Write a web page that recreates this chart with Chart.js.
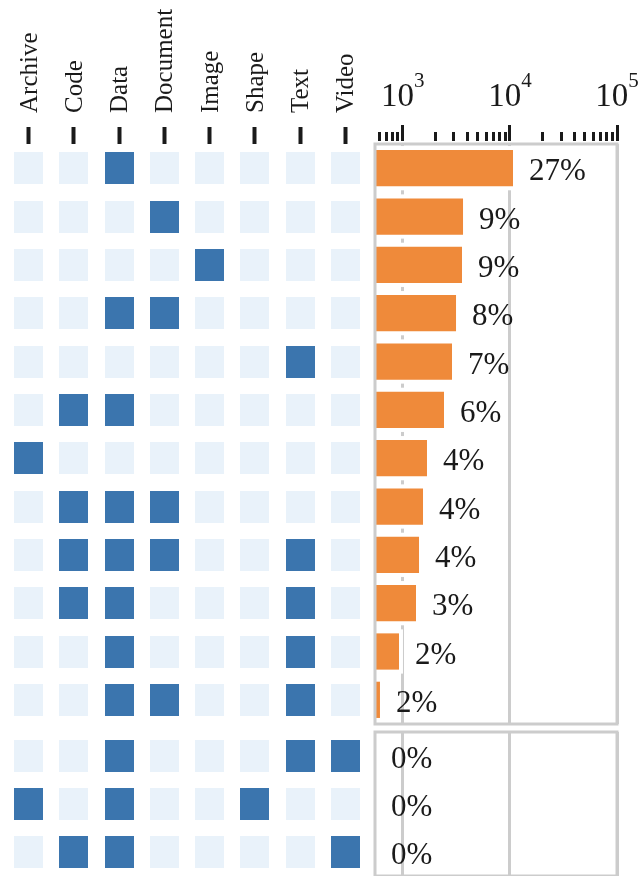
<!DOCTYPE html>
<html>
<head>
<meta charset="utf-8">
<title>File type combinations</title>
<script src="https://cdn.jsdelivr.net/npm/chart.js@4.4.1/dist/chart.umd.min.js"></script>
<style>
  html, body { margin: 0; padding: 0; background: #fff; }
  #wrap { position: relative; width: 640px; height: 876px; overflow: hidden; }
  #wrap canvas { position: absolute; }
</style>
</head>
<body>
<div id="wrap">
  <canvas id="matrixTop" width="372" height="726" style="left:0;top:0"></canvas>
  <canvas id="barsTop" width="268" height="726" style="left:372px;top:0"></canvas>
  <canvas id="matrixBottom" width="372" height="146" style="left:0;top:730px"></canvas>
  <canvas id="barsBottom" width="268" height="146" style="left:372px;top:730px"></canvas>
</div>
<script>
'use strict';

// file type columns of the membership matrix
const columns = ['Archive', 'Code', 'Data', 'Document', 'Image', 'Shape', 'Text', 'Video'];

// most common combinations (upper panel)
const topSets = [
    ['Data'],
    ['Document'],
    ['Image'],
    ['Data', 'Document'],
    ['Text'],
    ['Code', 'Data'],
    ['Archive'],
    ['Code', 'Data', 'Document'],
    ['Code', 'Data', 'Document', 'Text'],
    ['Code', 'Data', 'Text'],
    ['Data', 'Text'],
    ['Data', 'Document', 'Text']
];
const topCounts = [10690, 3650, 3570, 3140, 2880, 2425, 1682, 1544, 1417, 1328, 921, 612];

// rare combinations (lower panel)
const bottomSets = [
    ['Data', 'Text', 'Video'],
    ['Archive', 'Data', 'Shape'],
    ['Code', 'Data', 'Video']
];
const bottomCounts = [45, 30, 20];

const totalFiles = 39600;

// log axis ticks
const decadeTicks = [1000, 10000, 100000];
const minorTicks = [600, 700, 800, 900,
    2000, 3000, 4000, 5000, 6000, 7000, 8000, 9000,
    20000, 30000, 40000, 50000, 60000, 70000, 80000, 90000];

const SERIF = '"Liberation Serif", "Times New Roman", serif';
const INK = '#1a1a1a';
const GRID = '#cccccc';
const ON = '#3b75ae';
const OFF = '#e9f2fa';
const BAR = '#ef8a3a';

function cell(color) {
    var c = document.createElement('canvas');
    c.width = 29;
    c.height = 32;
    var g = c.getContext('2d');
    g.fillStyle = color;
    g.fillRect(0, 0, 29, 32);
    return c;
}

function rowName(set) {
    return set.join(' + ');
}

// rotated column names above the matrix, one per category tick
const columnNames = {
    id: 'columnNames',
    afterDraw: function(chart) {
        var ctx = chart.ctx, s = chart.scales.x;
        var end = chart.chartArea.top - 31;
        ctx.save();
        ctx.font = '25px ' + SERIF;
        ctx.fillStyle = INK;
        ctx.textAlign = 'left';
        ctx.textBaseline = 'alphabetic';
        columns.forEach(function(name, i) {
            ctx.save();
            ctx.translate(s.getPixelForValue(i), end);
            ctx.rotate(-Math.PI / 2);
            ctx.fillText(name, 0, 8);
            ctx.restore();
        });
        ctx.restore();
    }
};

// white gap around each bar so grid lines stop short of it
const barHalo = {
    id: 'barHalo',
    beforeDatasetsDraw: function(chart) {
        var ctx = chart.ctx, a = chart.chartArea;
        ctx.save();
        ctx.fillStyle = '#ffffff';
        chart.getDatasetMeta(0).data.forEach(function(bar) {
            if (bar.x <= a.left) return;
            ctx.fillRect(a.left, bar.y - bar.height / 2 - 4, bar.x - a.left + 4, bar.height + 8);
        });
        ctx.restore();
    }
};

const panelFrame = {
    id: 'panelFrame',
    afterDatasetsDraw: function(chart) {
        var ctx = chart.ctx, a = chart.chartArea;
        ctx.save();
        ctx.strokeStyle = GRID;
        ctx.lineWidth = 3;
        ctx.strokeRect(a.left, a.top, a.right - a.left, a.bottom - a.top);
        ctx.restore();
    }
};

// percentage of all files, written after each bar
const shareLabels = {
    id: 'shareLabels',
    afterDatasetsDraw: function(chart) {
        var ctx = chart.ctx, a = chart.chartArea;
        var counts = chart.data.datasets[0].data;
        ctx.save();
        ctx.font = '31px ' + SERIF;
        ctx.fillStyle = INK;
        ctx.textAlign = 'left';
        ctx.textBaseline = 'alphabetic';
        chart.getDatasetMeta(0).data.forEach(function(bar, i) {
            var pct = Math.round(counts[i] / totalFiles * 100);
            ctx.fillText(pct + '%', Math.max(bar.x, a.left) + 16, bar.y + 12);
        });
        ctx.restore();
    }
};

// tick marks and 10^n labels above the upper panel
const decadeAxis = {
    id: 'decadeAxis',
    afterDraw: function(chart) {
        var ctx = chart.ctx, s = chart.scales.x, top = chart.chartArea.top;
        ctx.save();
        ctx.fillStyle = INK;
        s.ticks.forEach(function(t) {
            var px = Math.round(s.getPixelForValue(t.value) - 1.5);
            var len = t.major ? 16 : 9;
            ctx.fillRect(px, top - 3 - len, 3, len);
        });
        ctx.textAlign = 'left';
        ctx.textBaseline = 'alphabetic';
        decadeTicks.forEach(function(v) {
            var px = s.getPixelForValue(v);
            var exp = String(Math.round(Math.log10(v)));
            ctx.font = '33px ' + SERIF;
            var wb = ctx.measureText('10').width;
            ctx.font = '21px ' + SERIF;
            var we = ctx.measureText(exp).width;
            var x0 = px - (wb + we) / 2;
            ctx.font = '33px ' + SERIF;
            ctx.fillText('10', x0, 106);
            ctx.font = '21px ' + SERIF;
            ctx.fillText(exp, x0 + wb, 87);
        });
        ctx.restore();
    }
};

function matrix(id, sets, header) {
    var rows = sets.map(rowName);
    var on = [], off = [];
    sets.forEach(function(set, i) {
        columns.forEach(function(col) {
            (set.indexOf(col) >= 0 ? on : off).push({x: col, y: rows[i]});
        });
    });
    return new Chart(document.getElementById(id), {
        type: 'scatter',
        data: {
            datasets: [
                {data: off, pointStyle: cell(OFF), pointRadius: 12},
                {data: on, pointStyle: cell(ON), pointRadius: 12}
            ]
        },
        options: {
            responsive: false,
            animation: false,
            events: [],
            layout: {
                autoPadding: false,
                padding: {left: 6, right: 4, top: header ? 0 : 2, bottom: header ? 2 : 0}
            },
            plugins: {legend: {display: false}, tooltip: {enabled: false}},
            scales: {
                x: {
                    type: 'category',
                    labels: columns,
                    offset: true,
                    position: 'top',
                    display: header,
                    afterFit: function(s) { if (header) s.height = 144; },
                    ticks: {display: false},
                    grid: {drawOnChartArea: false, drawTicks: true, tickLength: 17, tickWidth: 4, tickColor: INK},
                    border: {display: false}
                },
                y: {type: 'category', labels: rows, offset: true, display: false}
            }
        },
        plugins: header ? [columnNames] : []
    });
}

function bars(id, sets, counts, header) {
    var extra = [barHalo, panelFrame, shareLabels];
    if (header) extra.push(decadeAxis);
    return new Chart(document.getElementById(id), {
        type: 'bar',
        data: {
            labels: sets.map(rowName),
            datasets: [{data: counts, backgroundColor: BAR, barPercentage: 0.75, categoryPercentage: 1}]
        },
        options: {
            indexAxis: 'y',
            responsive: false,
            animation: false,
            events: [],
            layout: {padding: {left: 3, right: 23, top: header ? 0 : 2, bottom: header ? 2 : 0}},
            plugins: {legend: {display: false}, tooltip: {enabled: false}},
            scales: {
                x: {
                    type: 'logarithmic',
                    position: 'top',
                    min: 550,
                    max: 100000,
                    afterFit: function(s) { s.height = header ? 144 : 0; },
                    afterBuildTicks: function(s) {
                        s.ticks = decadeTicks.concat(minorTicks)
                            .sort(function(a, b) { return a - b; })
                            .map(function(v) { return {value: v, major: decadeTicks.indexOf(v) >= 0}; });
                    },
                    ticks: {display: false},
                    grid: {
                        drawTicks: false,
                        lineWidth: 3,
                        color: function(c) { return c.tick && c.tick.major ? GRID : 'rgba(0,0,0,0)'; }
                    },
                    border: {display: false}
                },
                y: {display: false}
            }
        },
        plugins: extra
    });
}

matrix('matrixTop', topSets, true);
bars('barsTop', topSets, topCounts, true);
matrix('matrixBottom', bottomSets, false);
bars('barsBottom', bottomSets, bottomCounts, false);
</script>
</body>
</html>
